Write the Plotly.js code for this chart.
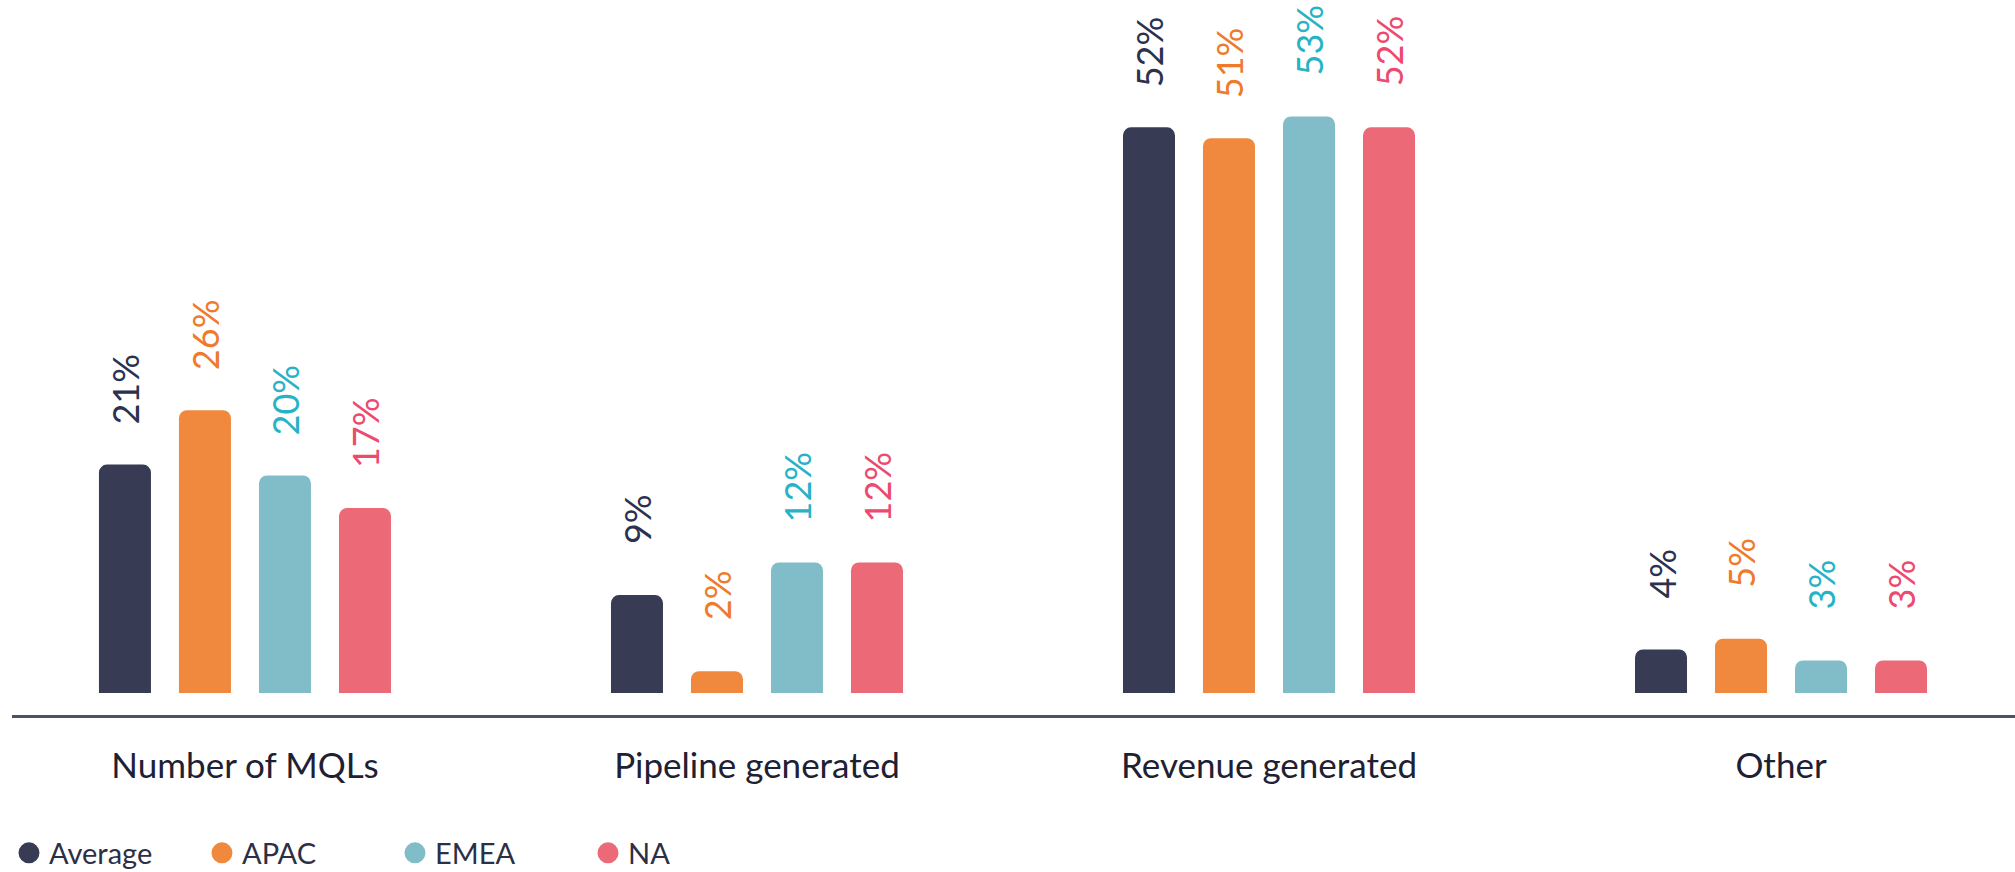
<!DOCTYPE html>
<html>
<head>
<meta charset="utf-8">
<script src="https://cdn.plot.ly/plotly-3.0.1.min.js"></script>
<style>html,body{margin:0;padding:0;background:#fff;}#chart{width:2015px;height:872px;}</style>
</head>
<body>
<div id="chart"></div>
<script>
// ---- data ----
const categories = ["Number of MQLs", "Pipeline generated", "Revenue generated", "Other"];
const seriesNames = ["Average", "APAC", "EMEA", "NA"];
const averageValues = [21, 9, 52, 4];
const apacValues = [26, 2, 51, 5];
const emeaValues = [20, 12, 53, 3];
const naValues = [17, 12, 52, 3];

// ---- styles ----
const barColors = ["#383b54", "#f0893e", "#80bdc8", "#ec6a78"];
const labelColors = ["#2b3150", "#f07a2c", "#27b2c6", "#ec4a6e"];
const allValues = [averageValues, apacValues, emeaValues, naValues];
const bargap = 0.375;
const FONT = "Lato, 'Open Sans', sans-serif";

const traces = [];
const annotations = [];
allValues.forEach((vals, j) => {
  traces.push({
    type: "bar",
    name: seriesNames[j],
    x: categories,
    y: vals,
    marker: {color: barColors[j], cornerradius: 8},
    showlegend: false,
    hoverinfo: "x+y+name"
  });
  const slot = (1 - bargap) / allValues.length;
  vals.forEach((v, i) => {
    annotations.push({
      x: i + (j - (allValues.length - 1) / 2) * slot,
      y: v,
      xref: "x", yref: "y",
      text: v + "%",
      showarrow: false,
      textangle: -90,
      xanchor: "center", yanchor: "middle",
      yshift: 76,
      font: {family: FONT, size: 36, color: labelColors[j]}
    });
  });
});
// legend entries (circle symbols)
seriesNames.forEach((n, j) => {
  traces.push({
    type: "scatter", mode: "markers", name: n,
    x: [null], y: [null],
    marker: {symbol: "circle", size: 16, color: barColors[j], line: {color: barColors[j], width: 5}},
    hoverinfo: "skip"
  });
});

const layout = {
  width: 2015, height: 872,
  margin: {l: 12, r: 0, t: 0, b: 157, pad: 0, autoexpand: false},
  paper_bgcolor: "#ffffff", plot_bgcolor: "#ffffff",
  barmode: "group",
  bargap: bargap,
  bargroupgap: 0.35,
  font: {family: FONT, color: "#1e2033"},
  xaxis: {
    type: "category",
    range: [-0.455, 3.457],
    showline: true, linecolor: "#4b5166", linewidth: 2.5,
    showgrid: false, zeroline: false,
    ticks: "", ticklabelstandoff: 18,
    tickfont: {family: FONT, size: 35, color: "#1e2033"},
    fixedrange: true
  },
  yaxis: {
    range: [-2.02, 63.7],
    visible: false, showgrid: false, zeroline: false, fixedrange: true
  },
  showlegend: true,
  legend: {
    orientation: "h",
    x: -0.0015, xanchor: "left",
    y: -0.193, yanchor: "middle",
    font: {family: FONT, size: 29, color: "#2c2f45"},
    entrywidth: 148, entrywidthmode: "pixels",
    bgcolor: "rgba(0,0,0,0)"
  },
  annotations: annotations
};

Plotly.newPlot("chart", traces, layout, {displayModeBar: false});
</script>
</body>
</html>
